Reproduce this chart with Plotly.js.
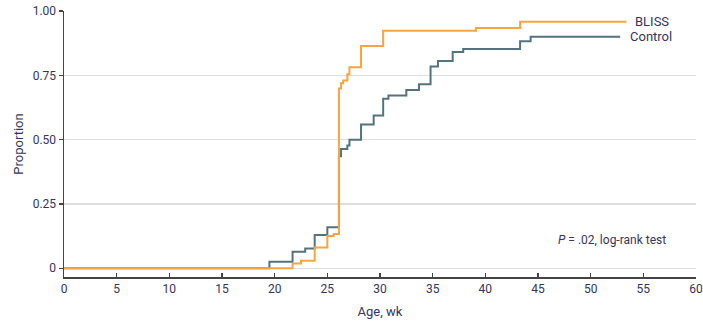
<!DOCTYPE html>
<html>
<head>
<meta charset="utf-8">
<script src="https://cdn.plot.ly/plotly-3.0.1.min.js"></script>
<style>html,body{margin:0;padding:0;background:#fff;}#chart{width:703px;height:325px;}</style>
</head>
<body>
<div id="chart"></div>
<script>
// Control group: step times (weeks) and cumulative proportion
const controlWeeks = [0, 19.5, 21.7, 22.9, 23.8, 25.0, 26.1, 26.3, 26.9, 27.1, 28.2, 29.4, 30.3, 30.8, 32.5, 33.7, 34.8, 35.5, 36.9, 37.9, 43.3, 44.3, 52.8];
const controlProp  = [0, 0.025, 0.064, 0.077, 0.129, 0.159, 0.435, 0.464, 0.477, 0.500, 0.559, 0.594, 0.659, 0.672, 0.693, 0.715, 0.784, 0.806, 0.841, 0.852, 0.882, 0.900, 0.900];
// BLISS group
const blissWeeks = [0, 21.7, 22.5, 23.8, 25.0, 25.6, 26.1, 26.3, 26.5, 26.9, 27.1, 28.2, 30.3, 39.1, 43.3, 53.4];
const blissProp  = [0, 0.018, 0.029, 0.081, 0.125, 0.133, 0.699, 0.719, 0.730, 0.754, 0.781, 0.864, 0.923, 0.934, 0.958, 0.958];

const xTicks = [0, 5, 10, 15, 20, 25, 30, 35, 40, 45, 50, 55, 60];
const yTicks = [0, 0.25, 0.5, 0.75, 1.0];
const yTickText = ["0", "0.25", "0.50", "0.75", "1.00"];

const FONT = "Liberation Sans Narrow, Arial Narrow, Roboto, sans-serif";
const TXT = "#35355a";

const traces = [
  {x: controlWeeks, y: controlProp, type: "scatter", mode: "lines", line: {shape: "hv", color: "#55737e", width: 2}, name: "Control", hoverinfo: "skip"},
  {x: blissWeeks, y: blissProp, type: "scatter", mode: "lines", line: {shape: "hv", color: "#f7a540", width: 2}, name: "BLISS", hoverinfo: "skip"}
];

const layout = {
  width: 703, height: 325,
  margin: {l: 64, r: 7, t: 11, b: 48},
  paper_bgcolor: "#fff", plot_bgcolor: "#fff",
  showlegend: false,
  font: {family: FONT, size: 12, color: TXT},
  xaxis: {
    range: [0, 60], tickvals: xTicks, ticktext: xTicks.map(String),
    showgrid: false, zeroline: false,
    showline: true, linecolor: "#444", linewidth: 1.5,
    ticks: "inside", ticklen: 4, tickcolor: "#444", tickwidth: 1.5,
    tickfont: {family: FONT, size: 12, color: TXT},
    title: {text: "Age, wk", font: {family: FONT, size: 13, color: TXT}, standoff: 12}
  },
  yaxis: {
    range: [-0.034, 1.0], tickvals: yTicks, ticktext: yTickText,
    showgrid: true, gridcolor: "#dedede", gridwidth: 1.5, zeroline: false,
    showline: true, linecolor: "#444", linewidth: 1.5,
    ticks: "outside", ticklen: 4, tickcolor: "#444", tickwidth: 1.5,
    tickfont: {family: FONT, size: 12, color: TXT},
    title: {text: "Proportion", font: {family: FONT, size: 13, color: TXT}, standoff: 6}
  },
  annotations: [
    {x: 54.0, y: blissProp[blissProp.length - 1], xref: "x", yref: "y", text: "BLISS", showarrow: false, xanchor: "left", yanchor: "middle", font: {family: FONT, size: 13, color: TXT}},
    {x: 53.5, y: controlProp[controlProp.length - 1], xref: "x", yref: "y", text: "Control", showarrow: false, xanchor: "left", yanchor: "middle", font: {family: FONT, size: 13, color: TXT}},
    {x: 57.3, y: 0.11, xref: "x", yref: "y", text: "<i>P</i> = .02, log-rank test", showarrow: false, xanchor: "right", yanchor: "middle", font: {family: FONT, size: 12, color: TXT}}
  ]
};

Plotly.newPlot("chart", traces, layout, {staticPlot: true, displayModeBar: false});
</script>
</body>
</html>
